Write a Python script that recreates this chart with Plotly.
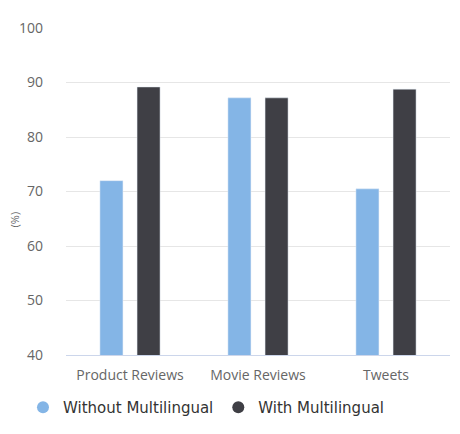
import plotly.graph_objects as go

categories = ["Product Reviews", "Movie Reviews", "Tweets"]
without_multi = [72.0, 87.2, 70.5]
with_multi = [89.2, 87.2, 88.8]
y_ticks = [40, 50, 60, 70, 80, 90, 100]

light = "#84b5e6"
dark = "#3f3f45"

fig = go.Figure()
fig.add_trace(go.Bar(x=categories, y=without_multi, name="Without Multilingual",
                     marker_color=light, showlegend=False))
fig.add_trace(go.Bar(x=categories, y=with_multi, name="With Multilingual",
                     marker_color=dark, showlegend=False))

# circle markers for the legend only
for name, col in [("Without Multilingual", light), ("With Multilingual", dark)]:
    fig.add_trace(go.Scatter(x=[None], y=[None], mode="markers", name=name,
                             marker=dict(symbol="circle", size=15, color=col)))

# page body adds an 8px offset, so the figure is 8px smaller here
fig.update_layout(
    width=452, height=426,
    margin=dict(l=58, r=10, t=10, b=79),
    plot_bgcolor="white",
    paper_bgcolor="white",
    barmode="group",
    bargap=0.42,
    bargroupgap=0.38,
    font=dict(family="Open Sans", size=14, color="#666666"),
    legend=dict(
        orientation="h",
        x=-0.112, xanchor="left",
        y=-0.11, yanchor="top",
        font=dict(family="DejaVu Sans", size=15, color="#333333"),
        itemsizing="constant",
        tracegroupgap=0,
    ),
    annotations=[dict(
        text="(%)", textangle=-90, showarrow=False,
        xref="paper", yref="paper", x=-0.135, y=0.415,
        xanchor="center", yanchor="middle",
        font=dict(family="Open Sans", size=11, color="#666666"),
    )],
)

fig.update_xaxes(showline=True, linecolor="#ccd6eb", linewidth=1,
                 showgrid=False, ticks="", ticklabelstandoff=7,
                 tickfont=dict(size=14, color="#666666"))
fig.update_yaxes(range=[40, 100.02], tickvals=y_ticks, showgrid=True,
                 gridcolor="#e6e6e6", gridwidth=1, zeroline=False,
                 ticklabelstandoff=22, tickfont=dict(size=14, color="#666666"))

fig.write_html("out.html")
